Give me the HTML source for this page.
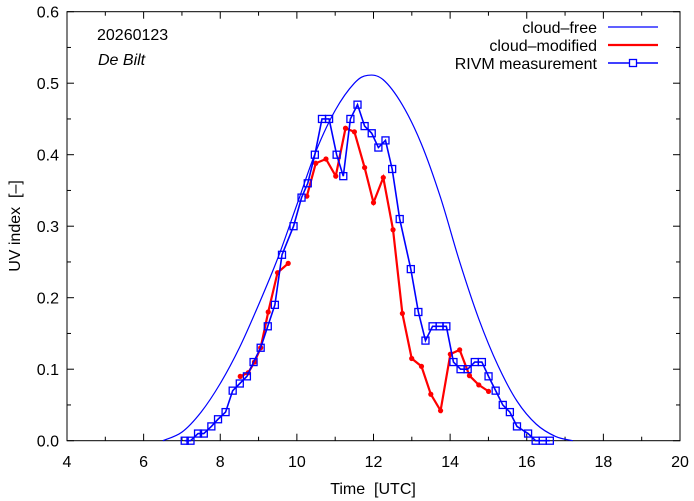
<!DOCTYPE html>
<html><head><meta charset="utf-8"><style>
body{margin:0;background:#fff}
svg{display:block;font-family:"Liberation Sans",sans-serif}
</style></head><body>
<svg id="c" width="694" height="501"></svg>
<script>
const xTicks=[4,6,8,10,12,14,16,18,20];
const yTicks=[0,0.1,0.2,0.3,0.4,0.5,0.6];
const freeT=[6.5,7.0,7.5,8.0,8.5,9.0,9.5,10.0,10.5,11.0,11.5,11.85,12.25,12.75,13.25,13.75,14.25,14.75,15.25,15.75,16.25,16.75,17.2];
const freeV=[0,0.012,0.04,0.08,0.13,0.19,0.255,0.33,0.405,0.462,0.5,0.511,0.505,0.47,0.415,0.34,0.25,0.17,0.105,0.055,0.023,0.006,0];
const modX=[540,558,572,586,603,624,648,null,690,710,733,755,777,797,820,840,862,884,905,926,948,969,991,1013,1034,1056,1077,1099];
const modV=[0.09,0.095,0.11,0.13,0.18,0.235,0.248,null,0.342,0.388,0.394,0.37,0.437,0.432,0.382,0.333,0.368,0.295,0.178,0.115,0.104,0.065,0.042,0.121,0.127,0.091,0.078,0.069];
const measX=[415,428,445,458,475,490,507,523,539,555,570,586,602,618,634,660,678,692,708,724,740,757,772,788,804,820,836,851,867,882,899,924,941,957,973,989,1004,1020,1036,1052,1068,1084,1099,1115,1131,1147,1163,1188,1205,1221,1237];
const measV=[0,0,0.01,0.01,0.02,0.03,0.04,0.07,0.08,0.09,0.11,0.13,0.16,0.19,0.26,0.30,0.34,0.36,0.40,0.45,0.45,0.40,0.37,0.45,0.47,0.44,0.43,0.41,0.42,0.38,0.31,0.24,0.18,0.14,0.16,0.16,0.16,0.11,0.10,0.10,0.11,0.11,0.09,0.07,0.05,0.04,0.02,0.01,0,0,0];
const toH=v=>v==null?null:4+(v-150)/86.25;
const L=67,R=680,T=11.7,B=440.7;
const X=h=>L+(h-4)/16*(R-L);
const Y=v=>B-v/0.6*(B-T);
const NS="http://www.w3.org/2000/svg";
const svg=document.getElementById('c');
function mk(t,a,p){const e=document.createElementNS(NS,t);for(const k in a)e.setAttribute(k,a[k]);(p||svg).appendChild(e);return e;}
let fr=mk('rect',{x:L,y:T,width:R-L,height:B-T,fill:'none',stroke:'#000','stroke-width':1});


for(let h=4;h<=20;h++){const maj=h%2==0,len=maj?7:4;
 mk('line',{x1:X(h),x2:X(h),y1:B,y2:B-len,stroke:'#000'});mk('line',{x1:X(h),x2:X(h),y1:T,y2:T+len,stroke:'#000'});}
for(let i=0;i<=12;i++){const v=i*0.05,len=i%2==0?7:4;
 mk('line',{x1:L,x2:L+len,y1:Y(v),y2:Y(v),stroke:'#000'});mk('line',{x1:R,x2:R-len,y1:Y(v),y2:Y(v),stroke:'#000'});}
xTicks.forEach(h=>{const t=mk('text',{x:X(h),y:467,'text-anchor':'middle','font-size':16});t.textContent=h;
 
 });
yTicks.forEach(v=>{const t=mk('text',{x:L-8,y:Y(v)+6,'text-anchor':'end','font-size':16});t.textContent=v.toFixed(1);
 
 });
let xt=mk('text',{x:373,y:494,'text-anchor':'middle','font-size':16});xt.textContent='Time\u00a0\u00a0[UTC]';


let yt=mk('text',{x:0,y:0,'text-anchor':'middle','font-size':16,transform:'translate(20,226) rotate(-90)'});yt.textContent='UV index\u00a0\u00a0[–]';


let d1=mk('text',{x:97,y:40,'font-size':16});d1.textContent='20260123';


let d2=mk('text',{x:98,y:65,'font-size':16,'font-style':'italic'});d2.textContent='De Bilt';


let pts=freeT.map((t,i)=>[X(t),Y(freeV[i])]);
let d='M'+pts[0].join(',');
for(let i=0;i<pts.length-1;i++){const p0=pts[Math.max(0,i-1)],p1=pts[i],p2=pts[i+1],p3=pts[Math.min(pts.length-1,i+2)];
 d+=` C${p1[0]+(p2[0]-p0[0])/6},${p1[1]+(p2[1]-p0[1])/6} ${p2[0]-(p3[0]-p1[0])/6},${p2[1]-(p3[1]-p1[1])/6} ${p2[0]},${p2[1]}`;}
let cf=mk('path',{d:d,fill:'none',stroke:'#0000ff','stroke-width':1.2});


let md='',pen=false;
modX.forEach((x,i)=>{if(x==null){pen=false;return;}const px=X(toH(x)),py=Y(modV[i]);md+=(pen?'L':'M')+px+','+py;pen=true;});
let cm=mk('path',{d:md,fill:'none',stroke:'#ff0000','stroke-width':2.2});


modX.forEach((x,i)=>{if(x==null)return;const c=mk('circle',{cx:X(toH(x)),cy:Y(modV[i]),r:2.6,fill:'#ff0000'});
 
 });
let ms=measX.map((x,i)=>X(toH(x))+','+Y(measV[i])).join(' ');
let ml=mk('polyline',{points:ms,fill:'none',stroke:'#0000ff','stroke-width':1.6});


measX.forEach((x,i)=>{const r=mk('rect',{x:X(toH(x))-3.5,y:Y(measV[i])-3.5,width:7,height:7,fill:'none',stroke:'#0000ff','stroke-width':1.3});
 
 });
const leg=[['cloud\u2013free',27,'#0000ff',1.2,false],['cloud\u2013modified',45,'#ff0000',2.2,false],['RIVM measurement',63,'#0000ff',1.6,true]];
leg.forEach(l=>{const g=mk('g',{});
 
 
 const t=mk('text',{x:597,y:l[1]+6,'text-anchor':'end','font-size':16},g);t.textContent=l[0];
 mk('line',{x1:608,x2:658,y1:l[1],y2:l[1],stroke:l[2],'stroke-width':l[3]},g);
 if(l[4])mk('rect',{x:629.5,y:l[1]-3.5,width:7,height:7,fill:'#fff',stroke:l[2],'stroke-width':1.3},g);});
</script>
</body></html>
